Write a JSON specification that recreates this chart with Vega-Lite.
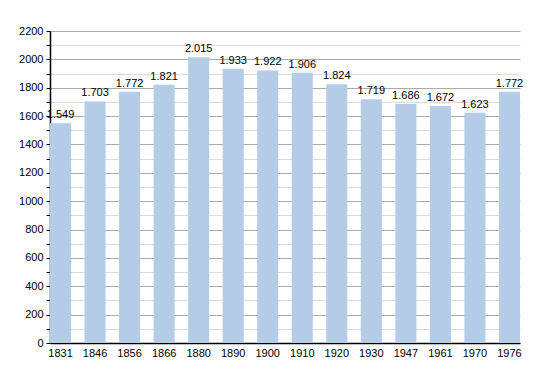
{
  "$schema": "https://vega.github.io/schema/vega-lite/v6.json",
  "autosize": "none",
  "width": 470,
  "height": 312,
  "padding": {"left": 50, "top": 31, "right": 30, "bottom": 30},
  "background": "white",
  "config": {
    "locale": {"number": {"decimal": ",", "thousands": ".", "grouping": [3], "currency": ["", ""]}},
    "font": "Liberation Sans",
    "view": {"stroke": null},
    "axis": {"labelFont": "Liberation Sans", "labelFontSize": 11, "labelColor": "#000"}
  },
  "data": {
    "values": [
      {"year": "1831", "pop": 1549},
      {"year": "1846", "pop": 1703},
      {"year": "1856", "pop": 1772},
      {"year": "1866", "pop": 1821},
      {"year": "1880", "pop": 2015},
      {"year": "1890", "pop": 1933},
      {"year": "1900", "pop": 1922},
      {"year": "1910", "pop": 1906},
      {"year": "1920", "pop": 1824},
      {"year": "1930", "pop": 1719},
      {"year": "1947", "pop": 1686},
      {"year": "1961", "pop": 1672},
      {"year": "1970", "pop": 1623},
      {"year": "1976", "pop": 1772}
    ]
  },
  "encoding": {
    "x": {
      "field": "year", "type": "ordinal", "sort": null,
      "scale": {"paddingInner": 0.39, "paddingOuter": 0},
      "axis": {"title": null, "labelAngle": 0, "ticks": false, "domainColor": "#000", "domainWidth": 1.5, "labelPadding": 4, "grid": false}
    },
    "y": {
      "field": "pop", "type": "quantitative",
      "scale": {"domain": [0, 2200], "nice": false},
      "axis": {
        "title": null,
        "values": [0,100,200,300,400,500,600,700,800,900,1000,1100,1200,1300,1400,1500,1600,1700,1800,1900,2000,2100,2200],
        "format": "d",
        "labelExpr": "datum.value % 200 === 0 ? datum.label : ''",
        "grid": true,
        "gridColor": {"condition": {"test": "datum.value % 200 === 0", "value": "#ababab"}, "value": "#dcdcdc"},
        "gridWidth": 1,
        "domainColor": "#000",
        "domainWidth": 1.5,
        "tickColor": "#000",
        "tickSize": 4,
        "labelPadding": 3
      }
    }
  },
  "layer": [
    {"mark": {"type": "bar", "color": "#b4cce6"}},
    {
      "mark": {"type": "text", "baseline": "alphabetic", "dy": -5, "fontSize": 11, "color": "#000"},
      "encoding": {"text": {"field": "pop", "type": "quantitative", "format": ",d"}}
    }
  ]
}
